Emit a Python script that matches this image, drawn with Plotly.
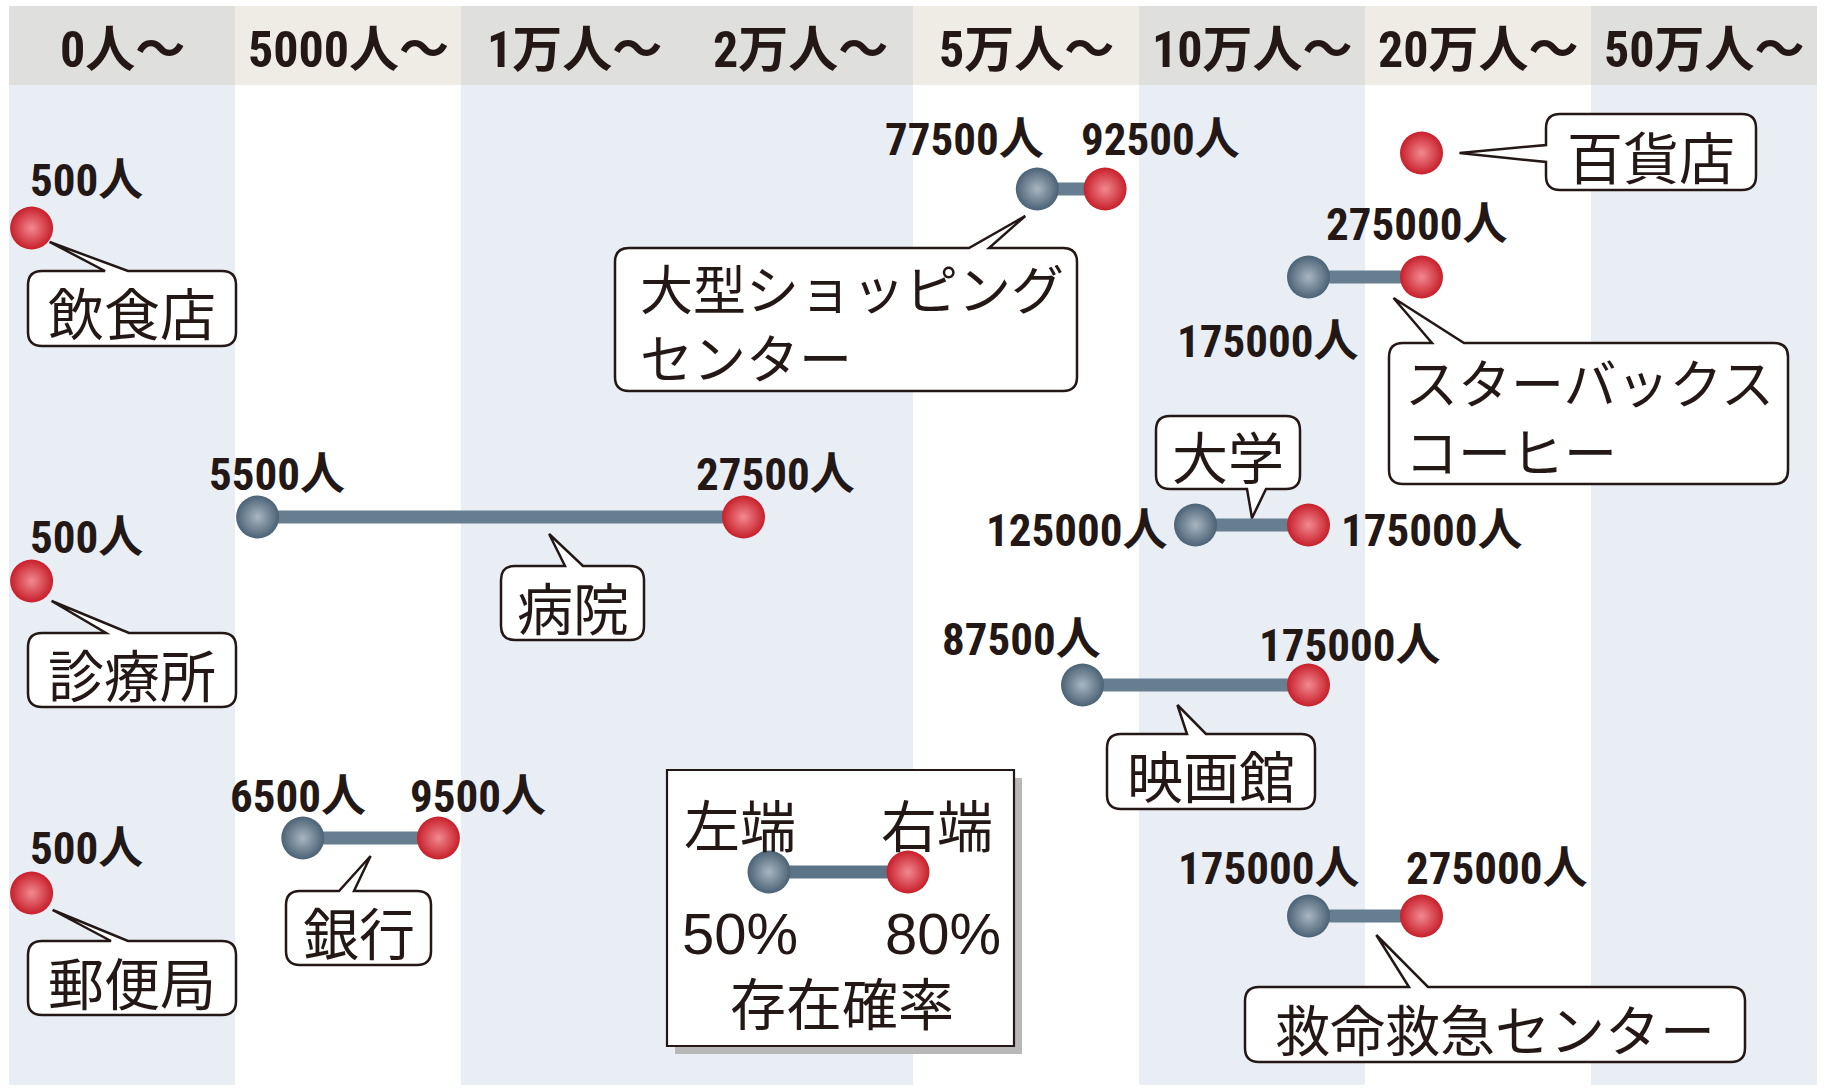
import plotly.graph_objects as go

# ---------------- data ----------------
facilities = ["百貨店", "大型ショッピングセンター", "飲食店", "スターバックスコーヒー", "病院",
              "大学", "診療所", "映画館", "銀行", "郵便局", "救命救急センター"]
pop_50 = [None, 77500, None, 175000, 5500, 125000, None, 87500, 6500, None, 175000]   # 存在確率50%
pop_80 = [275000, 92500, 500, 275000, 27500, 175000, 500, 175000, 9500, 500, 275000]  # 存在確率80%
band_edges = [0, 5000, 10000, 20000, 50000, 100000, 200000, 500000, 1000000]
band_labels = ["0人～", "5000人～", "1万人～", "2万人～", "5万人～", "10万人～", "20万人～", "50万人～"]
show_value = [False, True, True, True, True, True, True, True, True, True, True]

# ---------------- layout / style ----------------
W, H = 1826, 1088
X0_PX, BAND_PX = 9, 226
row_y = [153, 189, 228, 277, 517, 525, 581, 685, 838, 893, 916]
INK = "#231815"
head_colors = ["#dfdfde", "#eeece5", "#dfdfde", "#dfdfde", "#eeece5", "#dfdfde", "#eeece5", "#dfdfde"]
body_colors = ["#e9eef5", "#ffffff", "#e9eef5", "#e9eef5", "#ffffff", "#e9eef5", "#ffffff", "#e9eef5"]
RED, RED_HI = "#c71f2a", "#f28990"
GRY, GRY_HI = "#4b6275", "#a8b6c2"
LINE_C = "#677e90"
NARROW = "Noto Sans Condensed, Liberation Sans Narrow, Roboto Condensed, Noto Sans CJK JP"
VAL_FONT = dict(family=NARROW, size=45, color=INK, weight="bold")
HEAD_FONT = dict(family=NARROW, size=50, color=INK, weight="bold")
LAB_FAMILY = "Noto Sans CJK JP"


def to_band(v):
    for k in range(len(band_edges) - 1):
        lo, hi = band_edges[k], band_edges[k + 1]
        if v < hi:
            return k + (v - lo) / (hi - lo)
    return len(band_edges) - 1


def px2x(px):
    return (px - X0_PX) / BAND_PX


def x2px(u):
    return X0_PX + u * BAND_PX


# value label placement: (row, end) -> (xanchor, dx px, dy px)
label_spec = {
    (1, "L"): ("center", -73, -50), (1, "R"): ("center", 55, -50),
    (2, "R"): ("left", -4, -48),
    (3, "R"): ("center", -5, -53), (3, "L"): ("center", -41, 64),
    (4, "L"): ("center", 19, -43), (4, "R"): ("center", 32, -43),
    (5, "L"): ("right", -27, 5), (5, "R"): ("left", 30, 5),
    (6, "R"): ("left", -4, -44),
    (7, "L"): ("center", -61, -46), (7, "R"): ("center", 41, -40),
    (8, "L"): ("center", -5, -42), (8, "R"): ("center", 40, -42),
    (9, "R"): ("left", -4, -45),
    (10, "L"): ("center", -40, -48), (10, "R"): ("center", 75, -48),
}

# callout boxes (pixel layout): box, pointer side, pointer base, pointer target
callouts = [
    dict(row=0, box=(1546, 114, 1756, 190), side="left", base=(145, 162), target=("R", 38, 0),
         lines=["百貨店"], size=56),
    dict(row=1, box=(615, 248, 1077, 391), side="top", base=(969, 989), target=("L", -12, 27),
         lines=["大型ショッピング", "センター"], size=53, left=638),
    dict(row=2, box=(28, 271, 236, 346), side="top", base=(105, 128), target=("R", 18, 14),
         lines=["飲食店"], size=56),
    dict(row=3, box=(1389, 343, 1788, 484), side="top", base=(1432, 1464), target=("R", -28, 21),
         lines=["スターバックス", "コーヒー"], size=53, left=1403),
    dict(row=4, box=(501, 566, 644, 640), side="top", base=(565, 583), target=(0.6, 0, 17),
         lines=["病院"], size=56),
    dict(row=5, box=(1156, 416, 1300, 489), side="bottom", base=(1247, 1266), target=(0.5, 0, -7),
         lines=["大学"], size=56),
    dict(row=6, box=(28, 633, 236, 707), side="top", base=(106, 129), target=("R", 20, 20),
         lines=["診療所"], size=56),
    dict(row=7, box=(1107, 734, 1315, 809), side="top", base=(1187, 1206), target=(0.42, 0, 20),
         lines=["映画館"], size=56),
    dict(row=8, box=(286, 891, 431, 965), side="top", base=(339, 354), target=(0.5, 0, 18),
         lines=["銀行"], size=56),
    dict(row=9, box=(28, 941, 236, 1015), side="top", base=(111, 128), target=("R", 21, 17),
         lines=["郵便局"], size=56),
    dict(row=10, box=(1245, 987, 1745, 1062), side="top", base=(1409, 1428), target=(0.6, 0, 19),
         lines=["救命救急センター"], size=55),
]


def callout_path(x0, y0, x1, y1, side, b0, b1, tx, ty, r=14):
    def P(x, y):
        return f"{px2x(x):.5f},{y:.2f}"
    c = [f"M{P(x0 + r, y0)}"]
    if side == "top":
        c += [f"L{P(b0, y0)}", f"L{P(tx, ty)}", f"L{P(b1, y0)}"]
    c += [f"L{P(x1 - r, y0)}", f"Q{P(x1, y0)} {P(x1, y0 + r)}"]
    c += [f"L{P(x1, y1 - r)}", f"Q{P(x1, y1)} {P(x1 - r, y1)}"]
    if side == "bottom":
        c += [f"L{P(b1, y1)}", f"L{P(tx, ty)}", f"L{P(b0, y1)}"]
    c += [f"L{P(x0 + r, y1)}", f"Q{P(x0, y1)} {P(x0, y1 - r)}"]
    if side == "left":
        c += [f"L{P(x0, b1)}", f"L{P(tx, ty)}", f"L{P(x0, b0)}"]
    c += [f"L{P(x0, y0 + r)}", f"Q{P(x0, y0)} {P(x0 + r, y0)}", "Z"]
    return " ".join(c)


fig = go.Figure()
shapes = []
annotations = []

# column bands
for k in range(len(band_labels)):
    shapes.append(dict(type="rect", xref="x", yref="y", x0=k, x1=k + 1, y0=85, y1=1085,
                       fillcolor=body_colors[k], line_width=0, layer="below"))
    shapes.append(dict(type="rect", xref="x", yref="y", x0=k, x1=k + 1, y0=6, y1=85,
                       fillcolor=head_colors[k], line_width=0, layer="below"))
    annotations.append(dict(x=k + 0.5, y=50, xref="x", yref="y", text=band_labels[k],
                            showarrow=False, font=HEAD_FONT, xanchor="center", yanchor="middle"))

# connecting lines
lx, ly = [], []
for i, (a, b) in enumerate(zip(pop_50, pop_80)):
    if a is not None and b is not None:
        lx += [to_band(a), to_band(b), None]
        ly += [row_y[i], row_y[i], None]
fig.add_trace(go.Scatter(x=lx, y=ly, mode="lines", line=dict(color=LINE_C, width=13),
                         hoverinfo="skip", showlegend=False))

# 50% points
gx = [to_band(a) for a in pop_50 if a is not None]
gy = [row_y[i] for i, a in enumerate(pop_50) if a is not None]
fig.add_trace(go.Scatter(x=gx, y=gy, mode="markers", name="存在確率50%",
                         marker=dict(size=43, color=GRY, gradient=dict(type="radial", color=GRY_HI),
                                     line=dict(width=0)), showlegend=False))
# 80% points
rx = [to_band(b) for b in pop_80]
ry = list(row_y)
fig.add_trace(go.Scatter(x=rx, y=ry, mode="markers", name="存在確率80%",
                         marker=dict(size=43, color=RED, gradient=dict(type="radial", color=RED_HI),
                                     line=dict(width=0)), showlegend=False))

# value labels
for i in range(len(facilities)):
    if not show_value[i]:
        continue
    for end, v in (("L", pop_50[i]), ("R", pop_80[i])):
        if v is None or (i, end) not in label_spec:
            continue
        anc, dx, dy = label_spec[(i, end)]
        annotations.append(dict(x=to_band(v), y=row_y[i], xref="x", yref="y", text=f"{v}人",
                                showarrow=False, font=VAL_FONT, xanchor=anc, yanchor="middle",
                                xshift=dx, yshift=-dy))

# callouts
for c in callouts:
    i = c["row"]
    x0, y0, x1, y1 = c["box"]
    t = c["target"]
    if t[0] == "R":
        tu = to_band(pop_80[i])
    elif t[0] == "L":
        tu = to_band(pop_50[i])
    else:
        ul, ur = to_band(pop_50[i]), to_band(pop_80[i])
        tu = ul + t[0] * (ur - ul)
    tx = x2px(tu) + t[1]
    ty = row_y[i] + t[2]
    shapes.append(dict(type="path", xref="x", yref="y",
                       path=callout_path(x0, y0, x1, y1, c["side"], c["base"][0], c["base"][1], tx, ty),
                       fillcolor="white", line=dict(color=INK, width=2.5), layer="below"))
    font = dict(family=LAB_FAMILY, size=c["size"], color=INK, weight=400)
    if len(c["lines"]) == 1:
        annotations.append(dict(x=px2x((x0 + x1) / 2), y=(y0 + y1) / 2 + 2, xref="x", yref="y",
                                text=c["lines"][0], showarrow=False, font=font,
                                xanchor="center", yanchor="middle"))
    else:
        annotations.append(dict(x=px2x(c["left"]), y=(y0 + y1) / 2 + 2, xref="x", yref="y",
                                text="<br>".join(c["lines"]), showarrow=False, font=font,
                                xanchor="left", yanchor="middle", align="left"))

# legend box
shapes.append(dict(type="rect", xref="x", yref="y", x0=px2x(675), x1=px2x(1022), y0=778, y1=1054,
                   fillcolor="#b8b8b8", line_width=0, layer="below"))
shapes.append(dict(type="rect", xref="x", yref="y", x0=px2x(667), x1=px2x(1014), y0=770, y1=1046,
                   fillcolor="white", line=dict(color=INK, width=2.2), layer="below"))
leg_gx, leg_rx, leg_y = px2x(769), px2x(908), 872
fig.add_trace(go.Scatter(x=[leg_gx, leg_rx], y=[leg_y, leg_y], mode="lines",
                         line=dict(color="#5c7487", width=13), hoverinfo="skip", showlegend=False))
fig.add_trace(go.Scatter(x=[leg_gx], y=[leg_y], mode="markers", hoverinfo="skip", showlegend=False,
                         marker=dict(size=43, color=GRY, gradient=dict(type="radial", color=GRY_HI))))
fig.add_trace(go.Scatter(x=[leg_rx], y=[leg_y], mode="markers", hoverinfo="skip", showlegend=False,
                         marker=dict(size=43, color=RED, gradient=dict(type="radial", color=RED_HI))))
leg_font = dict(family=LAB_FAMILY, size=56, color=INK, weight=400)
pct_font = dict(family="Liberation Sans, Noto Sans CJK JP", size=58, color=INK)
for txt, px, py, f in [("左端", 740, 822, leg_font), ("右端", 937, 822, leg_font),
                       ("50%", 740, 933, pct_font), ("80%", 943, 933, pct_font),
                       ("存在確率", 842, 1000, leg_font)]:
    annotations.append(dict(x=px2x(px), y=py, xref="x", yref="y", text=txt, showarrow=False,
                            font=f, xanchor="center", yanchor="middle"))

fig.update_layout(
    width=W, height=H,
    margin=dict(l=X0_PX, r=W - X0_PX - 8 * BAND_PX, t=6, b=3),
    paper_bgcolor="white", plot_bgcolor="white",
    xaxis=dict(range=[0, 8], visible=False, fixedrange=True),
    yaxis=dict(range=[1085, 6], visible=False, fixedrange=True),
    shapes=shapes, annotations=annotations, showlegend=False,
)
fig.write_html("out.html", post_script="document.body.style.margin='0px';",
               config={"displayModeBar": False})
